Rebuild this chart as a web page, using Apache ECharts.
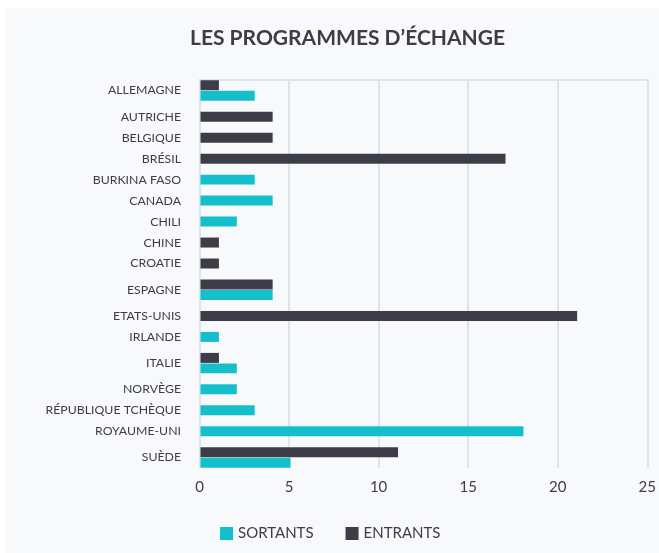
<!DOCTYPE html>
<html>
<head>
<meta charset="utf-8">
<script src="https://cdn.jsdelivr.net/npm/echarts@6/dist/echarts.min.js"></script>
<style>
  html, body { margin: 0; padding: 0; background: #fff; }
  #chart { width: 659px; height: 553px; }
</style>
</head>
<body>
<div id="chart"></div>
<script>
// pays, de haut en bas
const pays = ["ALLEMAGNE", "AUTRICHE", "BELGIQUE", "BRÉSIL", "BURKINA FASO", "CANADA", "CHILI",
  "CHINE", "CROATIE", "ESPAGNE", "ETATS-UNIS", "IRLANDE", "ITALIE", "NORVÈGE",
  "RÉPUBLIQUE TCHÈQUE", "ROYAUME-UNI", "SUÈDE"];
const sortants = [3, 0, 0, 0, 3, 4, 2, 0, 0, 4, 0, 1, 2, 2, 3, 18, 5];
const entrants = [1, 4, 4, 17, 0, 0, 0, 1, 1, 4, 21, 0, 1, 0, 0, 0, 11];
const xTicks = [0, 5, 10, 15, 20, 25];

const DARK = "#3d3c47";
const CYAN = "#14bfcc";
const GRID = "#d9e6ee";
const FONT = "Lato, 'Noto Sans', sans-serif";

// une case par barre non nulle, un vide d'une case entre pays
let cursor = 0;
const centres = [];
const entData = [];
const sortData = [];
for (let i = 0; i < pays.length; i++) {
  let n = 0;
  if (entrants[i] > 0) { entData.push([entrants[i], cursor + n, cursor + n + 1]); n++; }
  if (sortants[i] > 0) { sortData.push([sortants[i], cursor + n, cursor + n + 1]); n++; }
  centres.push(cursor + n / 2);
  cursor += n + 1;
}
const total = cursor - 1;

const nomParCentre = {};
centres.forEach((c, i) => { nomParCentre[c.toFixed(2)] = pays[i]; });

function renderBar(params, api) {
  const p0 = api.coord([0, api.value(1)]);
  const p1 = api.coord([api.value(0), api.value(2)]);
  return {
    type: "rect",
    shape: { x: p0[0] + 1, y: p0[1] + 0.25, width: p1[0] - p0[0] + 0.5, height: p1[1] - p0[1] - 0.5 },
    style: { fill: api.visual("color") }
  };
}

const chart = echarts.init(document.getElementById("chart"));
chart.setOption({
  backgroundColor: "#fff",
  animation: false,
  graphic: [{
    type: "rect", z: -10, silent: true,
    shape: { x: 6, y: 8, width: 653, height: 545 },
    style: { fill: "#f7f9fb" }
  }],
  title: {
    text: "LES PROGRAMMES D’ÉCHANGE",
    left: 185,
    top: 23,
    textStyle: { color: DARK, fontSize: 21, fontWeight: "bold", fontFamily: FONT }
  },
  legend: {
    data: ["SORTANTS", "ENTRANTS"],
    left: 220,
    top: 526,
    padding: 0,
    icon: "rect",
    itemWidth: 13,
    itemHeight: 13,
    itemGap: 32,
    textStyle: { color: DARK, fontSize: 15, fontFamily: FONT }
  },
  grid: { left: 199.5, right: 10, top: 80, bottom: 85 },
  xAxis: {
    type: "value",
    min: xTicks[0],
    max: xTicks[xTicks.length - 1],
    interval: xTicks[1] - xTicks[0],
    axisLine: { show: true, lineStyle: { color: GRID, width: 2 } },
    axisTick: { show: false },
    splitLine: { show: true, lineStyle: { color: GRID, width: 2 } },
    axisLabel: { color: DARK, fontSize: 15, margin: 12, fontFamily: FONT }
  },
  yAxis: {
    type: "value",
    inverse: true,
    min: 0,
    max: total,
    axisLine: { show: false },
    axisTick: { show: false },
    splitLine: { show: false },
    axisLabel: {
      customValues: centres,
      margin: 18.5,
      color: DARK,
      fontSize: 12.3,
      fontFamily: FONT,
      formatter: (v) => nomParCentre[Number(v).toFixed(2)] || ""
    }
  },
  series: [
    {
      name: "ENTRANTS",
      type: "custom",
      renderItem: renderBar,
      itemStyle: { color: DARK },
      encode: { x: 0, y: [1, 2] },
      data: entData
    },
    {
      name: "SORTANTS",
      type: "custom",
      renderItem: renderBar,
      itemStyle: { color: CYAN },
      encode: { x: 0, y: [1, 2] },
      data: sortData
    }
  ]
});
</script>
</body>
</html>
